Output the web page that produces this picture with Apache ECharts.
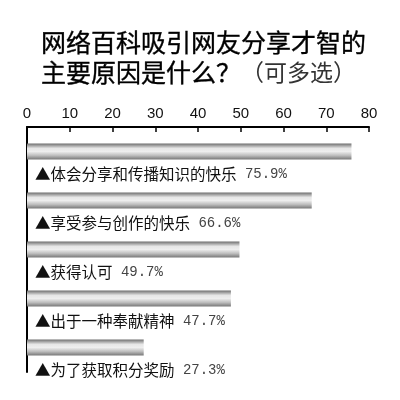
<!DOCTYPE html>
<html>
<head>
<meta charset="utf-8">
<script src="https://cdn.jsdelivr.net/npm/echarts@6/dist/echarts.min.js"></script>
<style>html,body{margin:0;padding:0;background:#fff;}#c{width:400px;height:400px;}</style>
</head>
<body>
<div id="c"></div>
<script>
var categories = ['体会分享和传播知识的快乐', '享受参与创作的快乐', '获得认可', '出于一种奉献精神', '为了获取积分奖励'];
var values = [75.9, 66.6, 49.7, 47.7, 27.3];
var tickLabels = [0, 10, 20, 30, 40, 50, 60, 70, 80];

var chart = echarts.init(document.getElementById('c'));
chart.setOption({
  backgroundColor: '#fff',
  animation: false,
  title: {
    left: 36, top: 22,
    text: '{t|网络百科吸引网友分享才智的}\n{t|主要原因是什么？}{s|（可多选）}',
    textStyle: {
      rich: {
        t: { fontFamily: 'Noto Sans CJK SC', fontSize: 25, color: '#000', lineHeight: 30, fontWeight: 'normal', textBorderColor: '#000', textBorderWidth: 0.35 },
        s: { fontFamily: 'Noto Sans CJK SC', fontSize: 23, color: '#333', lineHeight: 30, fontWeight: 'normal' }
      }
    }
  },
  grid: { left: 27, top: 127, width: 342, height: 245, containLabel: false },
  xAxis: {
    type: 'value', position: 'top', min: 0, max: 80, interval: 10,
    axisLine: { show: true, lineStyle: { color: '#000', width: 2 } },
    axisTick: { show: true, inside: true, length: 5, lineStyle: { color: '#000', width: 1.5 } },
    axisLabel: {
      margin: 6, color: '#111', fontSize: 15, fontFamily: 'Liberation Sans',
      formatter: function (v) { return tickLabels.indexOf(v) >= 0 ? String(v) : ''; }
    },
    splitLine: { show: false }
  },
  yAxis: {
    type: 'category', data: categories, inverse: true,
    axisLine: { show: true, lineStyle: { color: '#000', width: 2 } },
    axisTick: { show: false },
    axisLabel: { show: false }
  },
  series: [{
    type: 'bar',
    data: values,
    barWidth: 16,
    itemStyle: {
      color: new echarts.graphic.LinearGradient(0, 0, 0, 1, [
        { offset: 0, color: '#6e6e6e' },
        { offset: 0.3, color: '#e6e6e6' },
        { offset: 0.5, color: '#eeeeee' },
        { offset: 0.75, color: '#bdbdbd' },
        { offset: 1, color: '#777777' }
      ])
    },
    label: {
      show: true,
      position: 'insideLeft',
      distance: 5,
      offset: [3, 23],
      formatter: function (p) {
        return '{a|▲' + p.name + '}{b| ' + p.value.toFixed(1) + '%}';
      },
      rich: {
        a: { fontFamily: 'Noto Sans CJK SC', fontSize: 15.5, color: '#111' },
        b: { fontFamily: 'Liberation Mono', fontSize: 14, color: '#444' }
      }
    }
  }]
});
</script>
</body>
</html>
